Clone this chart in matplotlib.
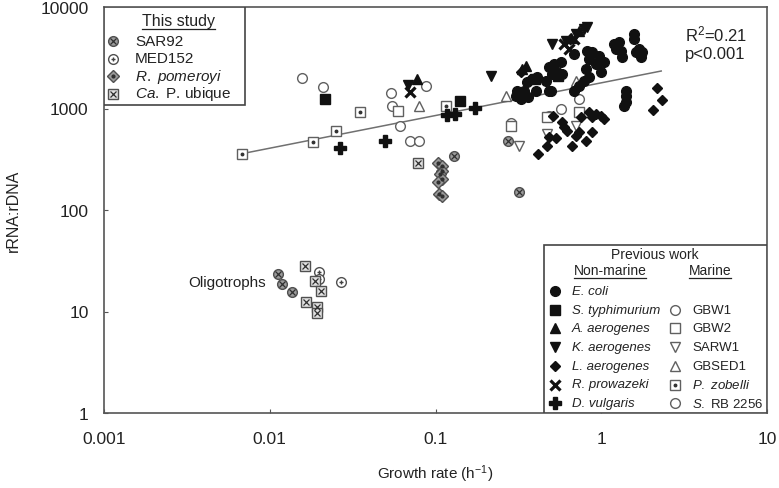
import numpy as np
import matplotlib
matplotlib.use("Agg")
import matplotlib.pyplot as plt
from matplotlib.patches import Rectangle
from matplotlib.ticker import FixedLocator, NullLocator, FixedFormatter

plt.rcParams['font.family'] = ['Liberation Sans', 'DejaVu Sans']
plt.rcParams['mathtext.fontset'] = 'custom'
plt.rcParams['mathtext.rm'] = 'Liberation Sans'
plt.rcParams['mathtext.it'] = 'Liberation Sans:italic'

# ---------------- data: growth rate (h-1) and rRNA:rDNA ----------------
# previous work, non-marine
ecoli_rate = [0.687, 0.486, 0.521, 0.574, 0.543, 0.507, 0.582, 0.384, 0.411, 0.358,
              0.312, 0.308, 0.344, 0.406, 0.467, 0.486, 0.824, 0.883, 0.973, 1.04,
              0.847, 0.933, 0.812, 1.0, 0.847, 0.79, 0.736, 1.2, 1.28, 1.23, 1.32,
              1.34, 1.58, 1.58, 1.69, 1.77, 1.74, 1.63, 0.5, 1.42, 1.42, 1.42, 1.38,
              0.687, 0.33, 0.36]
ecoli_ratio = [3440, 2560, 2740, 2870, 2290, 2190, 2190, 1950, 2040, 1820,
               1490, 1330, 1490, 1490, 1870, 1490, 3690, 3600, 3290, 2870,
               3080, 2740, 2450, 2290, 2040, 1870, 1670, 4320, 4520, 3860, 3690,
               3220, 5420, 4840, 3860, 3600, 3220, 3600, 1490, 1490, 1330, 1160, 1060,
               1490, 1250, 1300]
styph_rate = [0.0214, 0.1415, 0.40, 0.55]
styph_ratio = [1240, 1186, 1950, 2100]
aaero_rate = [0.077, 0.334, 0.353, 0.736, 0.66]
aaero_ratio = [1950, 2450, 2620, 5800, 5000]
kaero_rate = [0.068, 0.217, 0.507, 0.615, 0.79, 0.824, 0.706]
kaero_ratio = [1700, 2090, 4320, 4620, 6070, 6350, 5420]
laero_rate = [2.17, 2.33, 2.06, 0.514, 0.582, 0.598, 0.624, 0.486, 0.536, 0.706,
              0.736, 0.883, 0.812, 0.668, 0.473, 0.417, 0.847, 0.933, 1.0, 1.04,
              0.758, 0.883, 0.33]
laero_ratio = [1590, 1210, 967, 843, 736, 658, 600, 524, 512, 536,
               586, 586, 478, 427, 427, 356, 925, 883, 843, 788,
               824, 824, 2300]
rprow_rate = [0.070, 0.598, 0.687, 0.64]
rprow_ratio = [1455, 4320, 4840, 3900]
dvulg_rate = [0.0264, 0.0493, 0.118, 0.131, 0.174]
dvulg_ratio = [408, 478, 863, 883, 1010]

# previous work, marine
gbw1_rate = [0.0536, 0.055, 0.061, 0.088, 0.736, 0.574, 0.486, 0.287]
gbw1_ratio = [1420, 1060, 673, 1667, 1240, 990, 843, 720]
gbw2_rate = [0.059, 0.287, 0.736, 0.473]
gbw2_ratio = [945, 673, 925, 824]
sarw1_rate = [0.321, 0.706, 0.473]
sarw1_ratio = [427, 673, 561]
gbsed1_rate = [0.079, 0.268, 0.706]
gbsed1_ratio = [1060, 1330, 1870]
pzob_rate = [0.0349, 0.025, 0.0182, 0.0068, 0.1165]
pzob_ratio = [925, 600, 468, 356, 1060]
srb_rate = [0.0156, 0.0211, 0.070, 0.079]
srb_ratio = [2000, 1630, 478, 478]

# this study
sar92_rate = [0.130, 0.272, 0.321, 0.0112, 0.0118, 0.0136]
sar92_ratio = [340, 478, 150, 23.4, 18.7, 15.6]
med152_rate = [0.0197, 0.0197, 0.027]
med152_ratio = [24.5, 21, 19.5]
rpom_rate = [0.103, 0.110, 0.110, 0.106, 0.110, 0.104, 0.105, 0.110]
rpom_ratio = [290, 271, 242, 226, 200, 189, 144, 138]
pelagi_rate = [0.078, 0.0163, 0.0187, 0.0203, 0.0165, 0.0192, 0.0192]
pelagi_ratio = [290, 28, 19.9, 15.9, 12.4, 11.1, 9.7]

# power-law regression reported on the figure
fit_a, fit_b = 1790, 0.322
fit_lo, fit_hi = 0.0066, 2.3

x_ticks = [0.001, 0.01, 0.1, 1, 10]
x_labels = ["0.001", "0.01", "0.1", "1", "10"]
y_ticks = [1, 10, 100, 1000, 10000]
y_labels = ["1", "10", "100", "1000", "10000"]

# ---------------- marker styles ----------------
INK = "#111111"
EDGE = "#606060"
SHADE = "#9a9a9a"

STYLES = {
    "ecoli": [dict(marker="o", ms=7, mfc=INK, mec=INK)],
    "styph": [dict(marker="s", ms=6.5, mfc=INK, mec=INK)],
    "aaero": [dict(marker="^", ms=7, mfc=INK, mec=INK)],
    "kaero": [dict(marker="v", ms=7, mfc=INK, mec=INK)],
    "laero": [dict(marker="D", ms=5.5, mfc=INK, mec=INK)],
    "rprow": [dict(marker="x", ms=7, mec=INK, mew=2.3)],
    "dvulg": [dict(marker="P", ms=8, mfc=INK, mec=INK)],
    "gbw1": [dict(marker="o", ms=7, mfc="white", mec=EDGE, mew=1)],
    "gbw2": [dict(marker="s", ms=7, mfc="white", mec=EDGE, mew=1)],
    "sarw1": [dict(marker="v", ms=7, mfc="white", mec=EDGE, mew=1)],
    "gbsed1": [dict(marker="^", ms=7, mfc="white", mec=EDGE, mew=1)],
    "pzob": [dict(marker="s", ms=7, mfc="white", mec=EDGE, mew=1),
             dict(marker="o", ms=1.8, mfc="#333333", mec="#333333")],
    "srb": [dict(marker="o", ms=7, mfc="white", mec=EDGE, mew=1)],
    "sar92": [dict(marker="o", ms=7, mfc=SHADE, mec="#505050", mew=1),
              dict(marker="x", ms=4, mec="#303030", mew=0.9)],
    "med152": [dict(marker="o", ms=7, mfc="white", mec="#505050", mew=1),
               dict(marker="+", ms=3.5, mec="#404040", mew=1)],
    "rpom": [dict(marker="D", ms=6, mfc=SHADE, mec="#505050", mew=1),
             dict(marker="o", ms=2, mfc="#303030", mec="#303030")],
    "pelagi": [dict(marker="s", ms=7, mfc="#e0e0e0", mec="#505050", mew=1),
               dict(marker="x", ms=4, mec="#303030", mew=0.9)],
}

SERIES = [
    ("gbw1", gbw1_rate, gbw1_ratio), ("gbw2", gbw2_rate, gbw2_ratio),
    ("sarw1", sarw1_rate, sarw1_ratio), ("gbsed1", gbsed1_rate, gbsed1_ratio),
    ("pzob", pzob_rate, pzob_ratio), ("srb", srb_rate, srb_ratio),
    ("ecoli", ecoli_rate, ecoli_ratio), ("styph", styph_rate, styph_ratio),
    ("aaero", aaero_rate, aaero_ratio), ("kaero", kaero_rate, kaero_ratio),
    ("laero", laero_rate, laero_ratio), ("rprow", rprow_rate, rprow_ratio),
    ("dvulg", dvulg_rate, dvulg_ratio),
    ("sar92", sar92_rate, sar92_ratio), ("med152", med152_rate, med152_ratio),
    ("rpom", rpom_rate, rpom_ratio), ("pelagi", pelagi_rate, pelagi_ratio),
]

# ---------------- figure ----------------
W, H = 779, 489
AX_L, AX_R, AX_T, AX_B = 104, 767, 8, 414
fig = plt.figure(figsize=(W / 100, H / 100), dpi=100)
ax = fig.add_axes([AX_L / W, 1 - AX_B / H, (AX_R - AX_L) / W, (AX_B - AX_T) / H])


def frac(px, py):
    """pixel position in the 779x489 canvas -> axes fraction"""
    return (px - AX_L) / (AX_R - AX_L), (AX_B - py) / (AX_B - AX_T)


def stamp(key, px, py):
    fx, fy = frac(px, py)
    for layer in STYLES[key]:
        ax.plot([fx], [fy], ls="none", transform=ax.transAxes, zorder=7, clip_on=False, **layer)


ax.set_xscale("log")
ax.set_yscale("log")
ax.set_xlim(0.001, 10)
ax.set_ylim(1, 10000)

xf = np.geomspace(fit_lo, fit_hi, 50)
ax.plot(xf, fit_a * xf ** fit_b, color="#707070", lw=1.1, zorder=2)

for key, xs, ys in SERIES:
    for layer in STYLES[key]:
        ax.plot(xs, ys, ls="none", zorder=3, **layer)

ax.xaxis.set_major_locator(FixedLocator(x_ticks))
ax.xaxis.set_major_formatter(FixedFormatter(x_labels))
ax.yaxis.set_major_locator(FixedLocator(y_ticks))
ax.yaxis.set_major_formatter(FixedFormatter(y_labels))
ax.xaxis.set_minor_locator(NullLocator())
ax.yaxis.set_minor_locator(NullLocator())
ax.tick_params(direction="in", length=3, width=0.8, colors="#555555", labelcolor="#222222",
               labelsize=12.5)
ax.tick_params(axis="x", pad=13)
ax.tick_params(axis="y", pad=11)
for sp in ax.spines.values():
    sp.set_color("#555555")
    sp.set_linewidth(1.2)

ax.set_xlabel("Growth rate (h$^{\\mathregular{-1}}$)", fontsize=11, color="#222222", labelpad=12)
ax.set_ylabel("rRNA:rDNA", fontsize=11.5, color="#222222", labelpad=14)

ax.text(*frac(685, 34), "R$^{\\mathregular{2}}$=0.21", transform=ax.transAxes,
        fontsize=12, va="center", ha="left", color="#222222")
ax.text(*frac(685, 55), "p<0.001", transform=ax.transAxes,
        fontsize=12, va="center", ha="left", color="#222222")
ax.text(*frac(266, 283), "Oligotrophs", transform=ax.transAxes,
        fontsize=11, va="center", ha="right", color="#222222")

# ---------------- "This study" key ----------------
x0, y0 = frac(AX_L, 106)
x1, y1 = frac(245, AX_T)
ax.add_patch(Rectangle((x0, y0), x1 - x0, y1 - y0, transform=ax.transAxes,
                       fc="white", ec="#444444", lw=1.2, zorder=6))
underlined = []
underlined.append(ax.text(*frac(178, 22), "This study", transform=ax.transAxes,
                          fontsize=11.5, ha="center", va="center", zorder=8, color="#222222"))
study_rows = [("sar92", "SAR92"), ("med152", "MED152"),
              ("rpom", "$\\it{R.\\ pomeroyi}$"), ("pelagi", "$\\it{Ca.}$ P. ubique")]
for i, (key, label) in enumerate(study_rows):
    py = 42 + i * 17.5
    stamp(key, 113, py)
    ax.text(*frac(135, py), label, transform=ax.transAxes, fontsize=11,
            ha="left", va="center", zorder=8, color="#222222")

# ---------------- "Previous work" key ----------------
x0, y0 = frac(544, AX_B)
x1, y1 = frac(AX_R, 246)
ax.add_patch(Rectangle((x0, y0), x1 - x0, y1 - y0, transform=ax.transAxes,
                       fc="white", ec="#444444", lw=1.2, zorder=6))
ax.text(*frac(655, 255), "Previous work", transform=ax.transAxes, fontsize=10,
        ha="center", va="center", zorder=8, color="#222222")
underlined.append(ax.text(*frac(610, 271), "Non-marine", transform=ax.transAxes, fontsize=10,
                          ha="center", va="center", zorder=8, color="#222222"))
underlined.append(ax.text(*frac(710, 271), "Marine", transform=ax.transAxes, fontsize=10,
                          ha="center", va="center", zorder=8, color="#222222"))
nonmarine_rows = [("ecoli", "E. coli"), ("styph", "S. typhimurium"), ("aaero", "A. aerogenes"),
                  ("kaero", "K. aerogenes"), ("laero", "L. aerogenes"),
                  ("rprow", "R. prowazeki"), ("dvulg", "D. vulgaris")]
marine_rows = [None, ("gbw1", "GBW1"), ("gbw2", "GBW2"), ("sarw1", "SARW1"),
               ("gbsed1", "GBSED1"), ("pzob", "$\\it{P.\\ zobelli}$"), ("srb", "$\\it{S.}$ RB 2256")]
for i, (key, label) in enumerate(nonmarine_rows):
    py = 292 + i * 18.7
    stamp(key, 555, py)
    ax.text(*frac(572, py), label, transform=ax.transAxes, fontsize=9.5, style="italic",
            ha="left", va="center", zorder=8, color="#222222")
for i, row in enumerate(marine_rows):
    if row is None:
        continue
    key, label = row
    py = 292 + i * 18.7
    stamp(key, 675, py)
    ax.text(*frac(692, py), label, transform=ax.transAxes, fontsize=9.5,
            ha="left", va="center", zorder=8, color="#222222")

# underline headers
fig.canvas.draw()
inv = ax.transAxes.inverted()
for t in underlined:
    bb = t.get_window_extent()
    (ux0, uy0), (ux1, _) = inv.transform([(bb.x0, bb.y0 - 1), (bb.x1, bb.y0 - 1)])
    ax.plot([ux0, ux1], [uy0, uy0], transform=ax.transAxes, color="#222222", lw=0.9,
            zorder=8, clip_on=False)

fig.savefig("out.png", dpi=100)
